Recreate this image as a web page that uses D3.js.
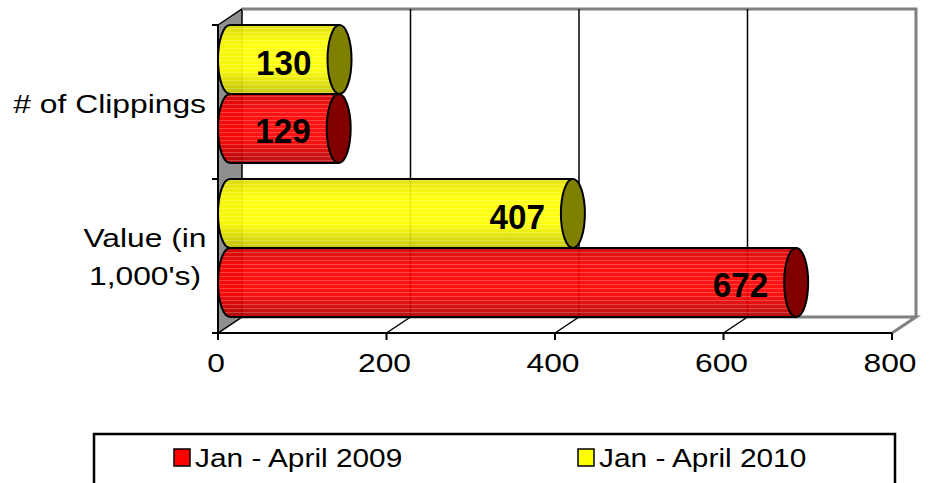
<!DOCTYPE html>
<html>
<head>
<meta charset="utf-8">
<script src="https://cdn.jsdelivr.net/npm/d3@7"></script>
<style>
  body { margin: 0; background: #fff; }
  svg text { font-family: "Liberation Sans", Arial, sans-serif; }
</style>
</head>
<body>
<div id="chart"></div>
<script>
// data
const categories = ["# of Clippings", "Value (in 1,000's)"];
const seriesNames = ["Jan - April 2009", "Jan - April 2010"];
const values2009 = [129, 672];
const values2010 = [130, 407];
const xTicks = [0, 200, 400, 600, 800];

const W = 929, H = 483;
const depth = {dx: 24, dy: -16};
const sx = 1.2;   // horizontal stretch of regular text
const fs = 26.5;

const svg = d3.select("#chart").append("svg")
    .attr("width", W).attr("height", H);

const x = d3.scaleLinear().domain([0, 800]).range([218, 892]);
const y = d3.scaleBand().domain(categories).range([25, 333]);
// inside a category, 2010 sits above 2009
const ySub = d3.scaleBand().domain([seriesNames[1], seriesNames[0]])
    .range([0, y.bandwidth()]).paddingInner(0).paddingOuter(0.116);

const colors = {
    "Jan - April 2009": {top: "#d00000", mid: "#ff0000", bot: "#b40000", cap: "#800000", key: "#ff0000"},
    "Jan - April 2010": {top: "#dede00", mid: "#ffff00", bot: "#c2c200", cap: "#808000", key: "#ffff00"}
};

const defs = svg.append("defs");
seriesNames.forEach((s, i) => {
    const g = defs.append("linearGradient").attr("id", "grad" + i)
        .attr("x1", 0).attr("y1", 0).attr("x2", 0).attr("y2", 1);
    g.append("stop").attr("offset", "0%").attr("stop-color", colors[s].top);
    g.append("stop").attr("offset", "25%").attr("stop-color", colors[s].mid);
    g.append("stop").attr("offset", "65%").attr("stop-color", colors[s].mid);
    g.append("stop").attr("offset", "100%").attr("stop-color", colors[s].bot);
});
const pat = defs.append("pattern").attr("id", "stripes")
    .attr("patternUnits", "userSpaceOnUse").attr("width", 8).attr("height", 4);
pat.append("rect").attr("x", 0).attr("y", 0).attr("width", 8).attr("height", 1)
    .attr("fill", "#fff").attr("opacity", 0.22);

const y0 = y.range()[0], y1 = y.range()[1];
const xL = x(0), xR = x(800);

// left wall
svg.append("path")
    .attr("d", `M${xL},${y0} L${xL + depth.dx},${y0 + depth.dy} L${xL + depth.dx},${y1 + depth.dy} L${xL},${y1} Z`)
    .attr("fill", "#8f8f8f").attr("stroke", "#000").attr("stroke-width", 1.5);

// back plane
svg.append("path")
    .attr("d", `M${xL + depth.dx},${y0 + depth.dy} L${xR + depth.dx},${y0 + depth.dy} L${xR + depth.dx},${y1 + depth.dy}`)
    .attr("fill", "none").attr("stroke", "#808080").attr("stroke-width", 3);

// floor
svg.append("path")
    .attr("d", `M${xL + depth.dx},${y1 + depth.dy} L${xR + depth.dx},${y1 + depth.dy} L${xR},${y1}`)
    .attr("fill", "none").attr("stroke", "#808080").attr("stroke-width", 3);

// gridlines on the back wall and floor
const inner = xTicks.filter(t => t > 0 && t < 800);
svg.selectAll(".grid").data(inner).enter().append("line")
    .attr("x1", d => x(d) + depth.dx).attr("x2", d => x(d) + depth.dx)
    .attr("y1", y0 + depth.dy).attr("y2", y1 + depth.dy)
    .attr("stroke", "#000").attr("stroke-width", 1.5);
svg.selectAll(".floor").data(inner).enter().append("line")
    .attr("x1", d => x(d)).attr("y1", y1)
    .attr("x2", d => x(d) + depth.dx).attr("y2", y1 + depth.dy)
    .attr("stroke", "#000").attr("stroke-width", 1.5);

// axes
svg.append("line").attr("x1", xL - 6).attr("x2", xR).attr("y1", y1).attr("y2", y1)
    .attr("stroke", "#000").attr("stroke-width", 2);
svg.append("line").attr("x1", xL).attr("x2", xL).attr("y1", y0).attr("y2", y1 + 6)
    .attr("stroke", "#000").attr("stroke-width", 2);
svg.selectAll(".xtick").data(xTicks).enter().append("line")
    .attr("x1", d => x(d)).attr("x2", d => x(d)).attr("y1", y1).attr("y2", y1 + 7)
    .attr("stroke", "#000").attr("stroke-width", 2);
const yBounds = [y0].concat(categories.map(c => y(c) + y.bandwidth()));
svg.selectAll(".ytick").data(yBounds).enter().append("line")
    .attr("x1", xL - 6).attr("x2", xL).attr("y1", d => d).attr("y2", d => d)
    .attr("stroke", "#000").attr("stroke-width", 2);

svg.selectAll(".xlab").data(xTicks).enter().append("text")
    .attr("transform", d => `translate(${x(d) - 2},372) scale(${sx},1)`)
    .attr("text-anchor", "middle").attr("font-size", fs).text(d => d);

// category labels
const cy0 = y(categories[0]) + y.bandwidth() / 2;
svg.append("text").attr("transform", `translate(206,${cy0 + 11}) scale(${sx},1)`)
    .attr("text-anchor", "end").attr("font-size", fs).text(categories[0]);
const cy1 = y(categories[1]) + y.bandwidth() / 2;
const lines = ["Value (in", "1,000's)"];
lines.forEach((l, i) => {
    svg.append("text").attr("transform", `translate(145,${cy1 - 9 + i * 38}) scale(${sx},1)`)
        .attr("text-anchor", "middle").attr("font-size", fs).text(l);
});

// cylinders
const bars = [];
categories.forEach((c, ci) => {
    bars.push({cat: c, s: seriesNames[1], v: values2010[ci], gi: 1});
    bars.push({cat: c, s: seriesNames[0], v: values2009[ci], gi: 0});
});
const rx = 12;
bars.forEach(b => {
    const h = ySub.bandwidth();
    const cy = y(b.cat) + ySub(b.s) + h / 2 + depth.dy / 2;
    const xa = x(0) + depth.dx / 2, xb = x(b.v) + depth.dx / 2;
    const top = cy - h / 2, bot = cy + h / 2;
    const body = `M${xa},${top} L${xb},${top} L${xb},${bot} L${xa},${bot} A${rx},${h / 2} 0 0 1 ${xa},${top} Z`;
    const g = svg.append("g");
    g.append("path").attr("d", body).attr("fill", `url(#grad${b.gi})`).attr("fill-opacity", 0.93);
    g.append("path").attr("d", body).attr("fill", "url(#stripes)");
    g.append("path").attr("d", body).attr("fill", "none").attr("stroke", "#000").attr("stroke-width", 2);
    g.append("ellipse").attr("cx", xb).attr("cy", cy).attr("rx", rx).attr("ry", h / 2)
        .attr("fill", colors[b.s].cap).attr("stroke", "#000").attr("stroke-width", 2);
    g.append("text").attr("transform", `translate(${x(b.v) - 16},${cy + 15}) scale(0.95,1)`)
        .attr("text-anchor", "end").attr("font-size", 35).attr("font-weight", "bold")
        .text(b.v);
});

// legend
svg.append("rect").attr("x", 94).attr("y", 434).attr("width", 801).attr("height", 60)
    .attr("fill", "#fff").attr("stroke", "#000").attr("stroke-width", 2.5);
const legX = [174, 578];
seriesNames.forEach((s, i) => {
    svg.append("rect").attr("x", legX[i]).attr("y", 449).attr("width", 16).attr("height", 17)
        .attr("fill", colors[s].key).attr("stroke", "#000").attr("stroke-width", 1.5);
    svg.append("text").attr("transform", `translate(${legX[i] + 21},467) scale(1.17,1)`)
        .attr("font-size", 25.5).text(s);
});
</script>
</body>
</html>
